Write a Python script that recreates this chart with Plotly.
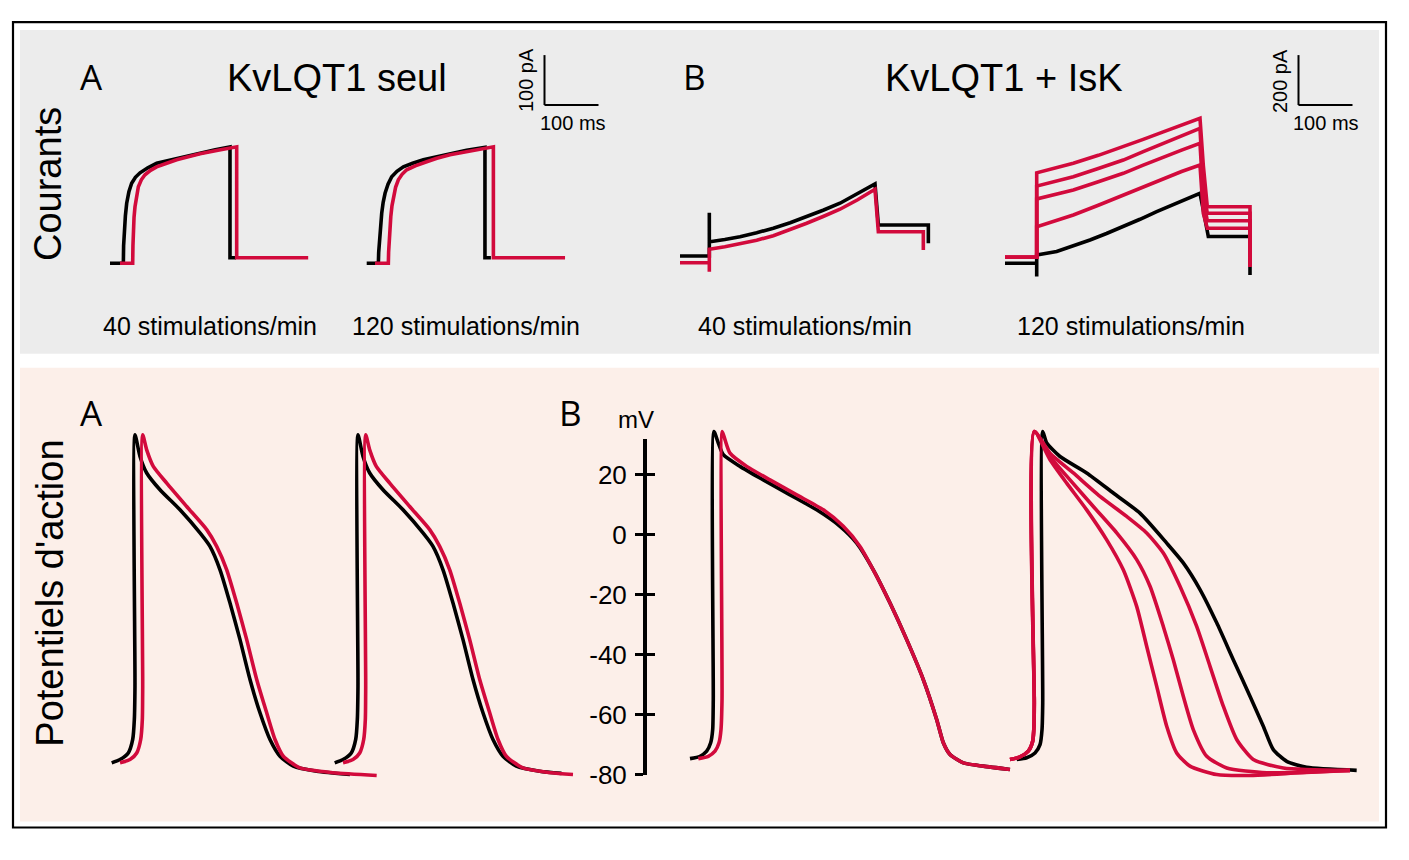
import plotly.graph_objects as go

# The page body keeps the browser's default 8 px margin, so the figure is drawn
# 16 px smaller and every page position is shifted by that margin.
PAGE_W, PAGE_H = 1409, 860
BODY_MARGIN = 8
W, H = PAGE_W - 2 * BODY_MARGIN, PAGE_H - 2 * BODY_MARGIN
Y_SQUEEZE = 0.983  # observed vertical ratio between page and photographed picture
RED = "#d20a3c"
BLACK = "#000000"
FONT = "Liberation Sans, Arial, sans-serif"

# ---------------- DATA ----------------
# Currents, panel A (KvLQT1 seul): time (ms), current (pA)
A40_t_black = [0, 24.7, 25.2, 26.5, 28.5, 30.9, 35, 40.1, 47, 55.6, 70, 86.4, 105, 123.5, 145, 166.7, 195, 222.2, 222.2, 233.3]
A40_i_black = [0, 0, 35, 66.6, 95, 120, 143, 160, 172, 181, 191, 200, 205, 210, 215, 220, 227, 233, 11, 11]
A40_t_red = [18.5, 42.0, 42.5, 43.2, 44.5, 46.3, 49, 52.5, 58, 64.8, 75, 86.4, 105, 123.5, 145, 166.7, 200, 234.6, 234.6, 367]
A40_i_red = [0, 0, 35, 66.6, 92, 113, 135, 153, 167, 177, 186, 193, 200, 207, 213, 219, 226, 233, 11, 11]

A120_t_black = [0, 21.6, 22.2, 23.5, 25.5, 27.8, 30.5, 34, 39.5, 46.3, 56, 67.9, 85, 104.9, 130, 154.3, 185, 219, 219, 230]
A120_i_black = [0, 0, 22, 46.6, 75, 100, 122, 140, 158, 173, 184, 193, 200, 207, 213, 219, 226, 232, 11, 11]
A120_t_red = [15.4, 40.1, 40.6, 41.5, 42.8, 44.6, 46.8, 49.4, 53.5, 58.6, 65.5, 74.1, 90, 111.1, 130, 154.3, 195, 234.6, 234.6, 367.3]
A120_i_red = [0, 0, 22, 46.6, 72, 93, 115, 133, 152, 167, 178, 187, 195, 203, 210, 217, 225, 233, 11, 11]

# Currents, panel B (KvLQT1 + IsK)
B40_t_black = [0, 54.3, 54.3, 54.3, 55.6, 83, 111.1, 142, 172.8, 204, 234.6, 265, 296.3, 329, 361.1, 367.3, 459.9, 459.9]
B40_i_black = [0, 0, 173, 57, 57, 66, 77, 93, 111, 133, 157, 183, 211, 248, 288, 124, 124, 51]
B40_t_red = [0, 54.3, 54.3, 54.3, 83, 111.1, 142, 172.8, 204, 234.6, 265, 296.3, 329, 361.1, 367.3, 450.6, 450.6]
B40_i_red = [-27, -27, -63, 27, 37, 48, 63, 81, 105, 131, 158, 187, 225, 267, 97, 97, 24]

B120_t_black = [0, 58.7, 58.7, 58.7, 95.7, 126.5, 157.4, 188, 219.1, 250, 280.9, 320, 361.1, 367.2, 376.5, 453.7, 453.7]
B120_i_black = [0, 0, -53, 33, 47, 69, 93, 119, 147, 176, 207, 242, 280, 213, 107, 107, -47]
B120_t_red = [0, 58.7, 58.7, 92, 126.5, 172.8, 219.1, 256, 293.1, 327, 361.1, 367.2, 374.6, 453.7, 453.7]
B120_i_red1 = [24, 24, 362, 380, 400, 432, 466, 496, 526, 552, 580, 393, 226, 226, -14]
B120_i_red2 = [24, 24, 309, 327, 346, 379, 413, 447, 480, 510, 540, 300, 200, 200, -14]
B120_i_red3 = [24, 24, 257, 275, 293, 326, 360, 393, 426, 453, 480, 260, 170, 170, -14]
B120_i_red4 = [24, 24, 146, 169, 193, 232, 273, 307, 340, 367, 393, 200, 140, 140, -14]

# Action potentials, panel A: time (ms), membrane potential (mV)
APA40_t_black = [0, 15.4, 30.7, 38.9, 41.9, 43.1, 43.1, 52.4, 64.8, 89.4, 126.5, 163.5, 182, 200.6,
                 219.1, 237.6, 256.1, 274.6, 293.1, 311.7, 336.3, 379.6, 441.3]
APA40_v_black = [-76.1, -75, -72.8, -68.3, -61.7, -50.6, 33.3, 26.1, 20.6, 15, 8.3, 0.6, -3.9, -11.7,
                 -22.8, -35, -48.3, -59.4, -68.3, -73.9, -77.2, -78.9, -80]
APA40_t_red = [15.4, 33.9, 46.3, 53.7, 56.7, 57.4, 57.4, 64.8, 77, 101.9, 138.9, 175.9, 194.4, 213,
               231.5, 250, 268.5, 287, 302.4, 317.8, 348.7, 410.4, 490.7]
APA40_v_red = [-76.1, -75, -72.8, -68.3, -61.7, -50.6, 33.3, 28.3, 22.8, 17.2, 9.4, 1.7, -3.9, -11.7,
               -22.8, -35, -48.3, -59.4, -68.3, -73.9, -77.8, -79.4, -80.3]

APA120_t_black = [0, 15.4, 30.7, 38.9, 41.9, 43.1, 43.1, 52.4, 64.8, 89.4, 126.5, 163.5, 182, 200.6,
                  219.1, 237.6, 256.1, 274.6, 293.1, 311.7, 336.3, 379.6, 420]
APA120_v_black = [-76.1, -75, -72.8, -68.3, -61.7, -50.6, 33.3, 26.1, 20.6, 15, 8.3, 0.6, -3.9, -11.7,
                  -22.8, -35, -48.3, -59.4, -68.3, -73.9, -77.2, -78.9, -79.6]
APA120_t_red = [15.4, 33.9, 46.3, 53.7, 56.7, 57.4, 57.4, 64.8, 77, 101.9, 138.9, 175.9, 194.4, 213,
                231.5, 250, 268.5, 287, 302.4, 317.8, 348.7, 400, 441.3]
APA120_v_red = [-76.1, -75, -72.8, -68.3, -61.7, -50.6, 33.3, 28.3, 22.8, 17.2, 9.4, 1.7, -3.9, -11.7,
                -22.8, -35, -48.3, -59.4, -68.3, -73.9, -77.8, -79.4, -80]

# Action potentials, panel B
APB40_t_black = [0, 18.5, 30.9, 38.3, 42, 43.1, 44.4, 52.4, 61.7, 92.6, 135.7, 185.2, 234.6, 277.8,
                 308.7, 339.4, 370.4, 401.3, 432, 456.9, 469.1, 481.5, 506.1, 543.1, 592.6]
APB40_v_black = [-74.7, -73.9, -72.2, -69.4, -65, -55, 34.4, 30.6, 26.7, 22.8, 18.3, 13.3, 8.3, 2.8,
                 -2.8, -11.7, -22.8, -35, -48.3, -61.7, -69.4, -73.3, -76.1, -77.2, -78.3]
APB40_t_red = [15.4, 33.9, 46.3, 53.7, 57.4, 59.3, 59.8, 64.8, 74.1, 105, 148.1, 197.6, 246.9, 283.9,
               314.8, 342.6, 370.4, 401.3, 432, 456.9, 469.1, 481.5, 506.1, 543.1, 592.6]
APB40_v_red = [-74.7, -73.9, -72.2, -69.4, -65, -55, 34.4, 31.7, 27.2, 22.8, 18.3, 13.3, 8.3, 2.8,
               -3.9, -12.8, -22.8, -35, -48.3, -61.7, -69.4, -73.3, -76.1, -77.2, -78.3]

APB120_t_black = [12.4, 30.9, 46.3, 55.6, 59.3, 60.6, 60.6, 68, 92.6, 142, 191.3, 240.7, 290.2, 320.9,
                  351.9, 382.8, 413.5, 444.4, 469.1, 487.6, 512.4, 549.4, 642]
APB120_v_black = [-75, -74.4, -72.8, -70, -65, -56.1, 34.4, 30.6, 26.1, 20.6, 13.9, 7.2, -2.8, -9.4,
                  -18.3, -29.4, -41.7, -53.9, -63.9, -71.7, -75.6, -77.6, -78.6]
APB120_t_red_up = [0, 18.5, 33.9, 42, 44.4, 45, 45]
APB120_v_red_up = [-75, -74.1, -72.2, -68.9, -63.9, -56.1, 34.4]
APB120_t_red2 = [74.1, 117.2, 166.7, 216.1, 253.1, 283.9, 314.8, 345.7, 370.4, 395, 419.8, 450.6, 506.1, 629.6]
APB120_v_red2 = [27.2, 20.6, 12.8, 6.1, 0.6, -6.1, -17.2, -30.6, -43.9, -57.2, -68.3, -75, -77.8, -78.6]
APB120_t_red3 = [74.1, 111.1, 154.3, 197.6, 234.6, 259.3, 283.9, 302.4, 320.9, 339.4, 364.3, 401.3, 475.4, 629.6]
APB120_v_red3 = [26.1, 18.3, 9.4, 0.6, -8.3, -17.2, -30.6, -41.7, -53.9, -65, -73.9, -77.8, -79.4, -78.6]
APB120_t_red4 = [74.1, 105, 142, 179.1, 209.8, 234.6, 253.1, 271.7, 290.2, 308.7, 333.3, 382.8, 444.4, 537, 629.6]
APB120_v_red4 = [25, 17.2, 8.3, -1.7, -11.7, -23.9, -37.2, -50.6, -63.9, -72.8, -77.2, -80, -80.3, -79.4, -78.6]

MV_TICKS = [20, 0, -20, -40, -60, -80]
MV_TICKTEXT = ["20", "0", "-20", "-40", "-60", "-80"]
RATE_LABELS = ["40 stimulations/min", "120 stimulations/min", "40 stimulations/min", "120 stimulations/min"]

# ---------------- LAYOUT HELPERS ----------------
PX_PER_MS = 0.54
PX_PER_PA_A = 0.5
PX_PER_PA_B = 0.25
PX_PER_MV = 3.0


def fx(px):
    return (px - BODY_MARGIN) / W


def fy(py):
    return 1 - (py / Y_SQUEEZE - BODY_MARGIN) / H


fig = go.Figure()
layout = {}


def add_panel(n, x0, y0, sx, sy, xl, xr, yt, yb):
    xa = "xaxis" if n == 1 else f"xaxis{n}"
    ya = "yaxis" if n == 1 else f"yaxis{n}"
    xr_ = "x" if n == 1 else f"x{n}"
    yr_ = "y" if n == 1 else f"y{n}"
    layout[xa] = dict(domain=[fx(xl), fx(xr)], range=[(xl - x0) / sx, (xr - x0) / sx],
                      visible=False, anchor=yr_, fixedrange=True)
    layout[ya] = dict(domain=[fy(yb), fy(yt)], range=[(y0 - yb) / sy, (y0 - yt) / sy],
                      visible=False, anchor=xr_, fixedrange=True)
    return xr_, yr_


def line(t, v, color, axes, shape="linear", width=3.6):
    fig.add_trace(go.Scatter(x=t, y=v, mode="lines", xaxis=axes[0], yaxis=axes[1],
                             line=dict(color=color, width=width, shape=shape, smoothing=0.6),
                             hoverinfo="skip", showlegend=False))


p1 = add_panel(1, 110, 263.3, PX_PER_MS, PX_PER_PA_A, 100, 330, 130, 290)
p2 = add_panel(2, 366.7, 263.3, PX_PER_MS, PX_PER_PA_A, 355, 590, 130, 290)
p3 = add_panel(3, 680, 256, PX_PER_MS, PX_PER_PA_B, 670, 940, 150, 290)
p4 = add_panel(4, 1005, 263.3, PX_PER_MS, PX_PER_PA_B, 995, 1265, 100, 290)
p5 = add_panel(5, 111.7, 535, PX_PER_MS, PX_PER_MV, 100, 390, 420, 790)
p6 = add_panel(6, 334.7, 535, PX_PER_MS, PX_PER_MV, 325, 590, 420, 790)
p7 = add_panel(7, 690, 535, PX_PER_MS, PX_PER_MV, 680, 1020, 420, 790)
p8 = add_panel(8, 1010, 535, PX_PER_MS, PX_PER_MV, 1000, 1372, 420, 790)

# currents
line(A40_t_black, A40_i_black, BLACK, p1)
line(A40_t_red, A40_i_red, RED, p1)
line(A120_t_black, A120_i_black, BLACK, p2)
line(A120_t_red, A120_i_red, RED, p2)
line(B40_t_black, B40_i_black, BLACK, p3)
line(B40_t_red, B40_i_red, RED, p3)
line(B120_t_black, B120_i_black, BLACK, p4)
for iv in (B120_i_red1, B120_i_red2, B120_i_red3, B120_i_red4):
    line(B120_t_red, iv, RED, p4)

# action potentials
line(APA40_t_black, APA40_v_black, BLACK, p5, "spline")
line(APA40_t_red, APA40_v_red, RED, p5, "spline")
line(APA120_t_black, APA120_v_black, BLACK, p6, "spline")
line(APA120_t_red, APA120_v_red, RED, p6, "spline")
line(APB40_t_black, APB40_v_black, BLACK, p7, "spline")
line(APB40_t_red, APB40_v_red, RED, p7, "spline")
line(APB120_t_black, APB120_v_black, BLACK, p8, "spline")
for tr, vr in ((APB120_t_red2, APB120_v_red2), (APB120_t_red3, APB120_v_red3), (APB120_t_red4, APB120_v_red4)):
    line(APB120_t_red_up + tr, APB120_v_red_up + vr, RED, p8, "spline")

# mV scale axis
MV_LOW = -80
MV_HIGH = MV_LOW + (775 - 439) / PX_PER_MV
layout["xaxis9"] = dict(domain=[fx(647), fx(700)], range=[0, 1], visible=False, anchor="y9", fixedrange=True)
mv_common = dict(domain=[fy(775), fy(439)], range=[MV_LOW, MV_HIGH],
                 tickmode="array", tickvals=MV_TICKS, ticktext=MV_TICKTEXT,
                 ticklen=8, tickwidth=2.5, tickcolor="black",
                 showgrid=False, zeroline=False, fixedrange=True)
layout["yaxis9"] = dict(anchor="x9", ticks="outside", showline=True, linecolor="black", linewidth=4,
                        tickfont=dict(family=FONT, size=26, color="black"), ticklabelstandoff=3,
                        **mv_common)
layout["yaxis10"] = dict(anchor="x9", overlaying="y9", ticks="inside", showticklabels=False,
                         showline=False, **mv_common)
fig.add_trace(go.Scatter(x=[], y=[], xaxis="x9", yaxis="y9", showlegend=False, hoverinfo="skip"))
fig.add_trace(go.Scatter(x=[], y=[], xaxis="x9", yaxis="y10", showlegend=False, hoverinfo="skip"))

# ---------------- SHAPES ----------------
shapes = [
    dict(type="rect", xref="paper", yref="paper", x0=fx(20), x1=fx(1379), y0=fy(354), y1=fy(30),
         fillcolor="#ececec", line=dict(width=0), layer="below"),
    dict(type="rect", xref="paper", yref="paper", x0=fx(20), x1=fx(1379), y0=fy(822), y1=fy(368),
         fillcolor="#fcefe9", line=dict(width=0), layer="below"),
    dict(type="rect", xref="paper", yref="paper", x0=fx(13), x1=fx(1386), y0=fy(828), y1=fy(22),
         line=dict(color="black", width=2.2), layer="above"),
]
# scale bars
for (bx, by, pa, pxpa) in ((544.5, 105, 100, PX_PER_PA_A), (1298.5, 105, 200, PX_PER_PA_B)):
    shapes.append(dict(type="line", xref="paper", yref="paper", x0=fx(bx), x1=fx(bx),
                       y0=fy(by), y1=fy(by - pa * pxpa), line=dict(color="black", width=2)))
    shapes.append(dict(type="line", xref="paper", yref="paper", x0=fx(bx), x1=fx(bx + 100 * PX_PER_MS),
                       y0=fy(by), y1=fy(by), line=dict(color="black", width=2)))

# ---------------- TEXT ----------------
ann = []


def text(s, px, py, size, angle=0, family=FONT):
    ann.append(dict(text=s, x=fx(px), y=fy(py), xref="paper", yref="paper", showarrow=False,
                    xanchor="center", yanchor="middle", textangle=angle,
                    font=dict(family=family, size=size, color="black")))


LETTER_FONT = "Open Sans, Liberation Sans, sans-serif"
text("A", 91, 76, 35, family=LETTER_FONT)
text("B", 694, 76, 35, family=LETTER_FONT)
text("KvLQT1 seul", 337, 78, 38)
text("KvLQT1 + IsK", 1004, 78, 38)
text("Courants", 48, 184, 38, angle=-90)
text("Potentiels d'action", 50, 594, 38, angle=-90)
for s, cx in zip(RATE_LABELS, (210, 466, 805, 1131)):
    text(s, cx, 326, 25)
text("A", 91, 413, 35, family=LETTER_FONT)
text("B", 570, 413, 35, family=LETTER_FONT)
text("mV", 636, 420, 24)
text("100 pA", 526, 80, 20, angle=-90)
text("100 ms", 573, 123, 20)
text("200 pA", 1280, 81, 20, angle=-90)
text("100 ms", 1326, 123, 20)

fig.update_layout(width=W, height=H, margin=dict(l=0, r=0, t=0, b=0),
                  paper_bgcolor="white", plot_bgcolor="rgba(0,0,0,0)",
                  shapes=shapes, annotations=ann, showlegend=False, **layout)

fig.write_html("out.html", config={"displayModeBar": False})
